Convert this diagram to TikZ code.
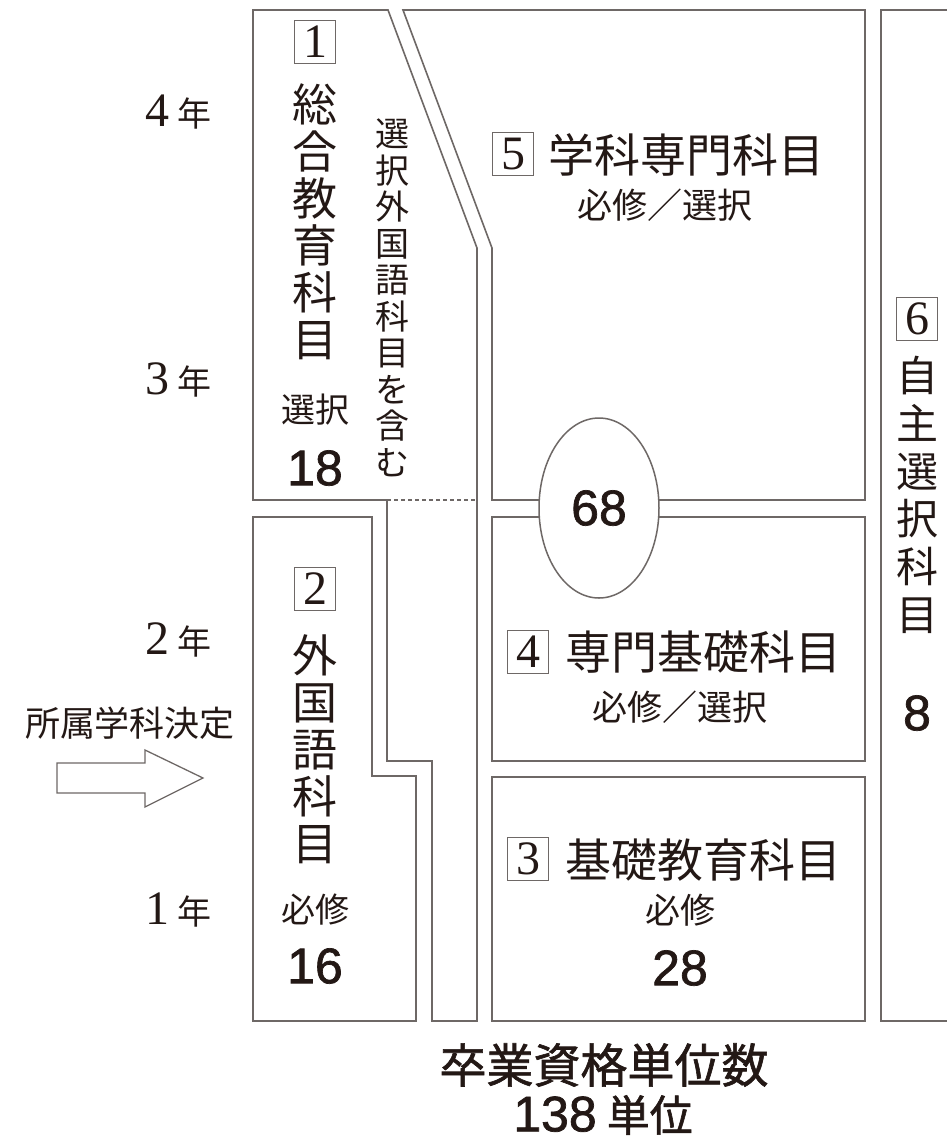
\documentclass[tikz,border=0pt]{standalone}
\usepackage{fontspec}
\setmainfont{Liberation Serif}
\newfontfamily\jp{Noto Sans CJK JP}
\newfontfamily\jpm[FakeBold=1.3]{Noto Sans CJK JP}
\newfontfamily\sn[FakeBold=1.4]{Liberation Sans}
\usetikzlibrary{shapes.geometric}
\definecolor{linec}{RGB}{110,104,102}
\definecolor{txt}{RGB}{35,24,21}
\newcommand\fs[2]{\fontsize{#1}{#2}\selectfont}
\begin{document}
\begin{tikzpicture}[x=1pt,y=-1pt,
  ln/.style={draw=linec,line width=1.6pt},
  nbox/.style={draw=linec,line width=1.3pt,minimum width=41pt,minimum height=43pt,inner sep=0pt,text=txt,font=\fs{48}{48}},
  vt/.style 2 args={align=center,inner sep=0pt,text=txt,font=\jp\fs{#1}{#2}},
  jt/.style={inner sep=0pt,text=txt,font=\jp\fs{#1}{#1}},
  numt/.style={inner sep=0pt,text=txt,font=\sn\fs{#1}{#1}},
  yr/.style={inner sep=0pt,text=txt}
]
\useasboundingbox[fill=white] (0,0) rectangle (946,1144);

% box 1 (general education) with its extension column
\draw[ln] (253,10)--(388,10)--(477,248)--(477,1021)--(432,1021)--(432,761)--(387,761)--(387,500)--(253,500)--cycle;
\draw[draw=linec,line width=1.2pt,dash pattern=on 4pt off 3pt] (387,500)--(477,500);
% box 2 (foreign language)
\draw[ln] (253,517)--(372,517)--(372,776)--(416,776)--(416,1021)--(253,1021)--cycle;
% box 5
\draw[ln] (403,10)--(865,10)--(865,500)--(492,500)--(492,248)--cycle;
% box 4
\draw[ln] (492,517) rectangle (865,761);
% box 3
\draw[ln] (492,777) rectangle (865,1021);
% box 6
\draw[ln] (947,10)--(881,10)--(881,1021)--(947,1021);
% ellipse 68
\node[ellipse,draw=linec,line width=1.5pt,fill=white,minimum width=120pt,minimum height=180pt,inner sep=0pt,text=txt,font=\sn\fs{50}{50}] (e68) at (599,508) {68};

% arrow
\draw[draw=linec,line width=1.3pt,fill=white] (57,763)--(145,763)--(145,750)--(203,778)--(145,807)--(145,793)--(57,793)--cycle;
\node[jt=35] (kettei) at (130,723) {所属学科決定};

% year labels
\node[yr] (y4) at (178,112) {\fs{48}{48}4\hspace{8pt}{\jp\fs{34}{34}年}};
\node[yr] (y3) at (178,380) {\fs{48}{48}3\hspace{8pt}{\jp\fs{34}{34}年}};
\node[yr] (y2) at (178,640) {\fs{48}{48}2\hspace{8pt}{\jp\fs{34}{34}年}};
\node[yr] (y1) at (178,910) {\fs{48}{48}1\hspace{8pt}{\jp\fs{34}{34}年}};

% box 1 texts
\node[nbox] (n1) at (315,42) {1};
\node[vt={45}{47}] (t1) at (315,222) {総\\合\\教\\育\\科\\目};
\node[jt=34] (s1) at (315,410) {選択};
\node[numt=50] (c1) at (315,468) {18};
\node[vt={34}{36.5}] (t1b) at (392,298) {選\\択\\外\\国\\語\\科\\目\\を\\含\\む};

% box 2 texts
\node[nbox] (n2) at (315,589) {2};
\node[vt={45}{47}] (t2) at (315,749) {外\\国\\語\\科\\目};
\node[jt=34] (s2) at (315,910) {必修};
\node[numt=50] (c2) at (315,966) {16};

% box 5 texts
\node[nbox] (n5) at (513,154) {5};
\node[jt=46,anchor=west] (t5) at (548,155) {学科専門科目};
\node[jt=35] (s5) at (665,205) {必修／選択};

% box 4 texts
\node[nbox] (n4) at (528,652) {4};
\node[jt=46,anchor=west] (t4) at (565,652) {専門基礎科目};
\node[jt=35] (s4) at (680,707) {必修／選択};

% box 3 texts
\node[nbox] (n3) at (528,859) {3};
\node[jt=46,anchor=west] (t3) at (565,860) {基礎教育科目};
\node[jt=35] (s3) at (680,910) {必修};
\node[numt=50] (c3) at (680,968) {28};

% box 6 texts
\node[nbox] (n6) at (917,319) {6};
\node[vt={42}{47.7}] (t6) at (917,495) {自\\主\\選\\択\\科\\目};
\node[numt=50] (c6) at (917,713) {8};

% total
\node[inner sep=0pt,text=txt,font=\jpm\fs{47}{47}] (tot) at (604,1065) {卒業資格単位数};
\node[inner sep=0pt,text=txt] (tot2) at (603,1115) {{\sn\fs{50}{50}138}\hspace{10pt}{\jpm\fs{43}{43}単位}};
\end{tikzpicture}
\end{document}
